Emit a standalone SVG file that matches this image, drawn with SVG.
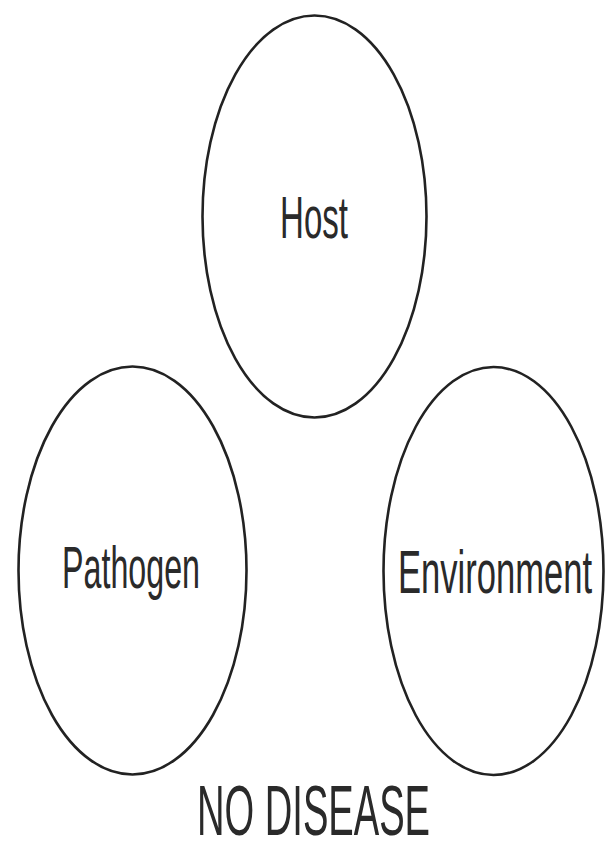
<svg xmlns="http://www.w3.org/2000/svg" width="606" height="845" viewBox="0 0 606 845">
<style>
.n{fill:#fff;stroke:#222;stroke-width:2.6}
.t{font-family:"Liberation Sans",Arial,sans-serif;fill:#2a2a2a;text-anchor:middle}
</style>
<rect width="606" height="845" fill="#fff"/>
<g id="connectors"></g>
<g id="host">
<ellipse class="n" cx="314.5" cy="216.5" rx="112" ry="201"/>
<text class="t" x="314" y="238" font-size="60" textLength="68" lengthAdjust="spacingAndGlyphs">Host</text>
</g>
<g id="pathogen">
<ellipse class="n" cx="132.5" cy="570.5" rx="114" ry="204"/>
<text class="t" x="131" y="588" font-size="60" textLength="138" lengthAdjust="spacingAndGlyphs">Pathogen</text>
</g>
<g id="environment">
<ellipse class="n" cx="493.5" cy="571" rx="110" ry="204"/>
<text class="t" x="495" y="593" font-size="62" textLength="194" lengthAdjust="spacingAndGlyphs">Environment</text>
</g>
<g id="label">
<text class="t" x="313.5" y="835" font-size="70" textLength="233" lengthAdjust="spacingAndGlyphs">NO DISEASE</text>
</g>
</svg>
